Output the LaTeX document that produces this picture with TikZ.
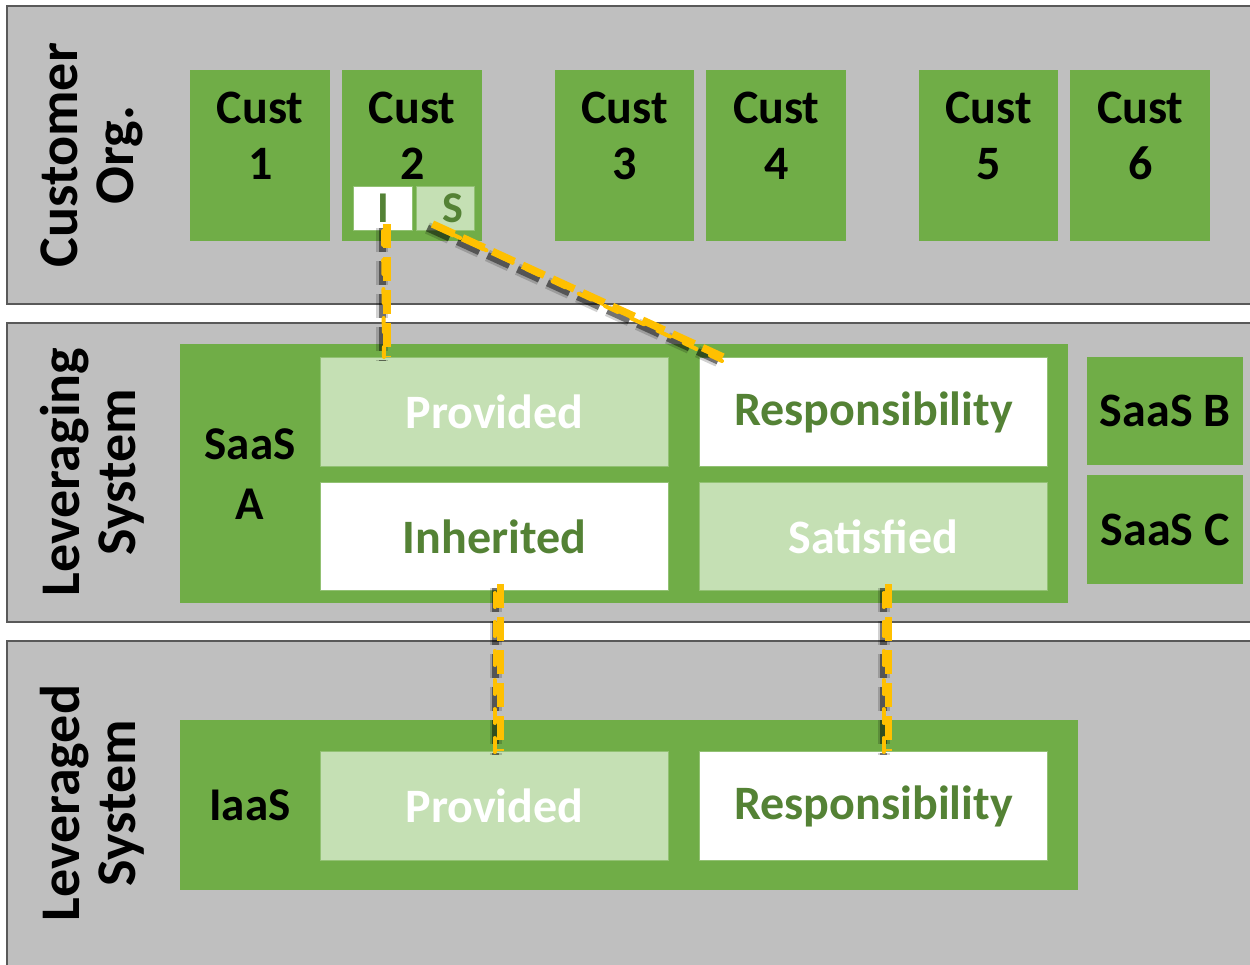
\documentclass[tikz,border=0pt]{standalone}
\usepackage{fontspec}
\setmainfont{Carlito}
\definecolor{band}{HTML}{BFBFBF}
\definecolor{bandline}{HTML}{595959}
\definecolor{leaf}{HTML}{70AD47}
\definecolor{paleleaf}{HTML}{C5E0B4}
\definecolor{darkleaf}{HTML}{548235}
\definecolor{gold}{HTML}{FFC000}
\tikzset{
  bandbox/.style={fill=band,draw=bandline,line width=1.5pt},
  greenbox/.style={fill=leaf,draw=none,inner sep=0pt,font=\bfseries\fontsize{48}{56}\selectfont,align=center,text=black},
  palebox/.style={fill=paleleaf,draw=leaf!60!paleleaf,line width=1pt,inner sep=0pt,font=\bfseries\fontsize{48}{56}\selectfont,text=white},
  whitebox/.style={fill=white,draw=leaf!60!paleleaf,line width=1pt,inner sep=0pt,font=\bfseries\fontsize{48}{56}\selectfont,text=darkleaf},
  bandlabel/.style={rotate=90,align=center,font=\bfseries\fontsize{56}{56}\selectfont,text=black},
  thinlink/.style={draw=gold,line width=4pt,line cap=round,dash pattern=on 14pt off 15pt},
  thicklink/.style={draw=gold,line width=7.5pt,dash pattern=on 24pt off 9pt},
  linkshade/.style={draw=black,dash pattern=on 24pt off 9pt},
}
% a dashed link: thin dashed trace plus a heavier dashed stroke with a soft shadow
\newcommand{\goldlink}[4]{%
  \draw[linkshade,opacity=0.18,line width=12pt,transform canvas={shift={(-5pt,-4pt)}}] #3 -- #4;
  \draw[linkshade,opacity=0.45,line width=7pt,transform canvas={shift={(-5pt,-4pt)}}] #3 -- #4;
  \draw[thinlink] #1 -- #2;
  \draw[thicklink] #3 -- #4;}
\begin{document}
\begin{tikzpicture}[x=1pt,y=-1pt]
\useasboundingbox (0,0) rectangle (1250,964);
\fill[white] (0,0) rectangle (1250,964);

% three horizontal bands
\draw[bandbox] (1260,6) -- (7,6) -- (7,304) -- (1260,304);
\draw[bandbox] (1260,323) -- (7,323) -- (7,622) -- (1260,622);
\draw[bandbox] (1260,641) -- (7,641) -- (7,975) -- (1260,975);

% band titles
\node[bandlabel] (lblcust) at (92,155) {Customer\\Org.};
\node[bandlabel] (lblling) at (92,472) {Leveraging\\System};
\node[bandlabel] (lbled) at (92,803) {Leveraged\\System};

% customer organisations
\node[greenbox,minimum width=140,minimum height=171,anchor=north west] (c1) at (190,70) {};
\node[greenbox,minimum width=140,minimum height=171,anchor=north west] (c2) at (342,70) {};
\node[greenbox,minimum width=139,minimum height=171,anchor=north west] (c3) at (555,70) {};
\node[greenbox,minimum width=140,minimum height=171,anchor=north west] (c4) at (706,70) {};
\node[greenbox,minimum width=139,minimum height=171,anchor=north west] (c5) at (919,70) {};
\node[greenbox,minimum width=140,minimum height=171,anchor=north west] (c6) at (1070,70) {};
\foreach \n/\k in {c1/1,c2/2,c3/3,c4/4,c5/5,c6/6}
  \node[font=\bfseries\fontsize{48}{56}\selectfont,align=center] (t\n) at ([yshift=-66]\n.north) {Cust\\\k};

% inherited / satisfied tags of customer 2
\node[whitebox,minimum width=59,minimum height=44,anchor=north west,font=\bfseries\fontsize{44}{52}\selectfont] (tagI) at (353,186) {I};
\node[palebox,minimum width=58,minimum height=44,anchor=north west,text=darkleaf,font=\bfseries\fontsize{44}{52}\selectfont] (tagS) at (416,186) {\hspace*{14pt}S};

% leveraging system: SaaS A
\node[greenbox,minimum width=888,minimum height=259,anchor=north west] (saasA) at (180,344) {};
\node[font=\bfseries\fontsize{47}{60}\selectfont,align=center] (saasAtxt) at (250,474) {SaaS\\A};
\node[palebox,minimum width=348,minimum height=109,anchor=north west] (prov) at (320,357) {Provided};
\node[whitebox,minimum width=348,minimum height=109,anchor=north west] (resp) at (699,357) {Responsibility};
\node[whitebox,minimum width=348,minimum height=108,anchor=north west] (inh) at (320,482) {Inherited};
\node[palebox,minimum width=348,minimum height=108,anchor=north west] (sat) at (699,482) {Satisfied};

% other SaaS offerings
\node[greenbox,minimum width=156,minimum height=108,anchor=north west] (saasB) at (1087,357) {SaaS B};
\node[greenbox,minimum width=156,minimum height=109,anchor=north west] (saasC) at (1087,475) {SaaS C};

% leveraged system: IaaS
\node[greenbox,minimum width=898,minimum height=170,anchor=north west] (iaas) at (180,720) {};
\node[font=\bfseries\fontsize{47}{54}\selectfont] (iaastxt) at (250,805) {IaaS};
\node[palebox,minimum width=348,minimum height=109,anchor=north west] (iprov) at (320,751) {Provided};
\node[whitebox,minimum width=348,minimum height=109,anchor=north west] (iresp) at (699,751) {Responsibility};

% dashed responsibility links
\goldlink{(tagI.south)}{([xshift=1]tagI.south |- prov.north)}
         {([xshift=4,yshift=7]tagI.south)}{([xshift=4]tagI.south |- prov.north)}
\goldlink{([xshift=2,yshift=-1]tagS.south)}{([xshift=23,yshift=-4]resp.north west)}
         {([xshift=-13,yshift=7]tagS.south)}{([xshift=24]resp.north west)}
\goldlink{([yshift=-2]inh.south)}{([yshift=-3]inh.south |- iprov.north)}
         {([xshift=6,yshift=7]inh.south)}{([xshift=6]inh.south |- iprov.north)}
\goldlink{([xshift=10,yshift=-2]sat.south)}{([xshift=10,yshift=-3]sat.south |- iresp.north)}
         {([xshift=15,yshift=7]sat.south)}{([xshift=15]sat.south |- iresp.north)}
\end{tikzpicture}
\end{document}
